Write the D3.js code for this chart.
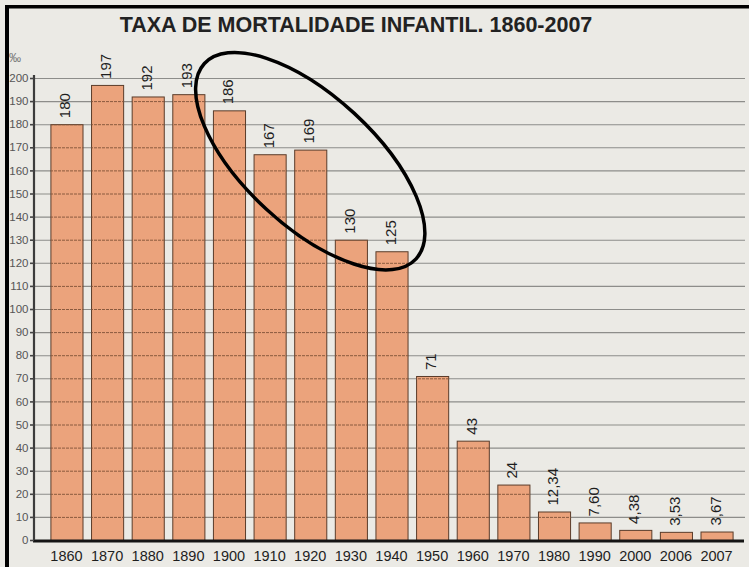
<!DOCTYPE html>
<html>
<head>
<meta charset="utf-8">
<script src="https://cdn.jsdelivr.net/npm/d3@7"></script>
<style>
  html, body { margin: 0; padding: 0; background: #ffffff; }
  svg { display: block; }
</style>
</head>
<body>
<svg id="chart" width="749" height="567"></svg>
<script>
// ---- data ----
const title = "TAXA DE MORTALIDADE INFANTIL. 1860-2007";
const categories = ["1860","1870","1880","1890","1900","1910","1920","1930","1940","1950","1960","1970","1980","1990","2000","2006","2007"];
const values = [180, 197, 192, 193, 186, 167, 169, 130, 125, 71, 43, 24, 12.34, 7.60, 4.38, 3.53, 3.67];
const valueLabels = ["180","197","192","193","186","167","169","130","125","71","43","24","12,34","7,60","4,38","3,53","3,67"];
const yTicks = d3.range(0, 201, 10);
const unitLabel = "‰";
// annotation ellipse, anchored in data space
const ellipseCategory = "1920";
const ellipseValue = 164;

// ---- layout ----
const W = 749, H = 567;
const svg = d3.select("#chart");
const font = "'Liberation Sans', Arial, Helvetica, sans-serif";

svg.append("rect").attr("width", W).attr("height", H).attr("fill", "#ebeae5");

const x = d3.scaleBand().domain(categories).range([37, 746]).paddingInner(0.21).paddingOuter(0.33);
const y = d3.scaleLinear().domain([0, 200]).range([540, 78]);

const defs = svg.append("defs");
defs.append("clipPath").attr("id", "inner").append("rect").attr("x", 9).attr("y", 8).attr("width", W - 9).attr("height", H - 8);
defs.append("clipPath").attr("id", "barsClip").selectAll("rect").data(values).join("rect")
  .attr("x", (d, i) => x(categories[i]) + 0.5)
  .attr("y", d => y(d) + 0.5)
  .attr("width", x.bandwidth())
  .attr("height", d => y(0) - y(d));

const g = svg.append("g").attr("clip-path", "url(#inner)");

// gridlines beneath
g.append("g").selectAll("line").data(yTicks.filter(d => d > 0)).join("line")
  .attr("x1", 34).attr("x2", 745)
  .attr("y1", d => y(d) + 0.5).attr("y2", d => y(d) + 0.5)
  .attr("stroke", "#8d8d8a").attr("stroke-width", 1.1);

// bars
g.append("g").selectAll("rect").data(values).join("rect")
  .attr("x", (d, i) => x(categories[i]) + 0.5)
  .attr("y", d => y(d) + 0.5)
  .attr("width", x.bandwidth())
  .attr("height", d => y(0) - y(d))
  .attr("fill", "#eba37c")
  .attr("stroke", "#5a3c2a")
  .attr("stroke-width", 1);

// gridlines over bars (brownish, dashed)
g.append("g").attr("clip-path", "url(#barsClip)").selectAll("line").data(yTicks.filter(d => d > 0)).join("line")
  .attr("x1", 34).attr("x2", 745)
  .attr("y1", d => y(d) + 0.5).attr("y2", d => y(d) + 0.5)
  .attr("stroke", "#8a5a3e").attr("stroke-width", 1)
  .attr("stroke-dasharray", "3,1");

// value labels
g.append("g").selectAll("text").data(values).join("text")
  .attr("transform", (d, i) => `translate(${x(categories[i]) + x.bandwidth() / 2 + 4},${y(d) - 6}) rotate(-90)`)
  .attr("text-anchor", "start")
  .attr("font-family", font).attr("font-size", 15)
  .attr("fill", "#1e1e1e")
  .text((d, i) => valueLabels[i]);

// y axis
const yAxis = svg.append("g").attr("transform", "translate(34,0)")
  .call(d3.axisLeft(y).tickValues(yTicks).tickSize(4).tickPadding(1.5).tickFormat(d3.format("d")));
yAxis.select(".domain").attr("stroke", "#3c3c3c").attr("stroke-width", 2.2)
  .attr("d", `M0,${y(0)}V${y(200) - 3}`);
yAxis.selectAll(".tick line").attr("stroke", "#444").attr("stroke-width", 1.6);
yAxis.selectAll(".tick text").attr("font-family", font).attr("font-size", 11.5).attr("fill", "#555");

svg.append("text").attr("x", 21).attr("y", 62).attr("text-anchor", "end")
  .attr("font-family", font).attr("font-size", 12).attr("fill", "#777").text(unitLabel);

// x axis baseline
g.append("line").attr("x1", 33).attr("x2", 744).attr("y1", y(0) + 1).attr("y2", y(0) + 1)
  .attr("stroke", "#151515").attr("stroke-width", 3);

// x labels
g.append("g").selectAll("text").data(categories).join("text")
  .attr("x", d => x(d) + x.bandwidth() / 2)
  .attr("y", 561)
  .attr("text-anchor", "middle")
  .attr("font-family", font).attr("font-size", 14.5)
  .attr("fill", "#1e1e1e")
  .text(d => d);

// title
g.append("text").attr("x", 356).attr("y", 32).attr("text-anchor", "middle")
  .attr("font-family", font).attr("font-size", 21.5).attr("font-weight", "bold")
  .attr("fill", "#222").text(title);

// annotation ellipse
g.append("ellipse")
  .attr("transform", `translate(${x(ellipseCategory) + x.bandwidth() / 2},${y(ellipseValue)}) rotate(42.7)`)
  .attr("rx", 144).attr("ry", 65)
  .attr("fill", "none").attr("stroke", "#000").attr("stroke-width", 3.5);

// frame (scan border top & left)
svg.append("rect").attr("x", 5).attr("y", 5).attr("width", W - 5).attr("height", 3.5).attr("fill", "#000");
svg.append("rect").attr("x", 5).attr("y", 5).attr("width", 4).attr("height", H - 5).attr("fill", "#000");
</script>
</body>
</html>
